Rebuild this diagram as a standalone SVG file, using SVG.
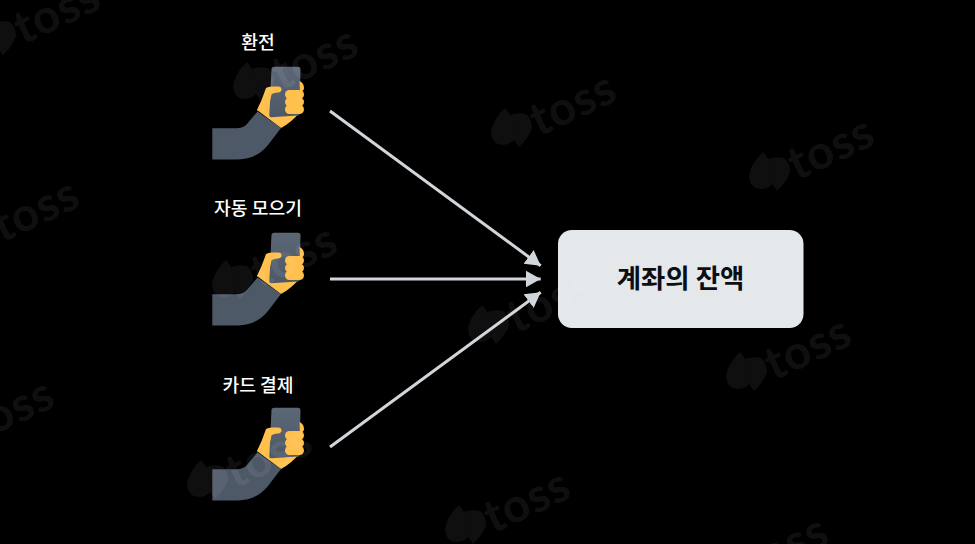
<svg xmlns="http://www.w3.org/2000/svg" width="975" height="544" viewBox="0 0 975 544">
<style>
.lbl{font-family:"Noto Sans CJK KR","Noto Sans",sans-serif;font-size:18.200px;font-weight:500;fill:#fff;text-anchor:middle}
.ttl{font-family:"Noto Sans CJK KR","Noto Sans",sans-serif;font-size:26.400px;font-weight:700;fill:#0b0e12;text-anchor:middle}
.conn{stroke:#d1d6db;stroke-width:3;fill:none;marker-end:url(#ah)}
.wt{font-family:Lato,"Open Sans",sans-serif;font-size:47px;font-weight:700;letter-spacing:1px;fill:#fff;fill-opacity:.085}
.wl{fill:#fff;fill-opacity:.06}
</style>
<defs>
<marker id="ah" markerUnits="userSpaceOnUse" markerWidth="16" markerHeight="20" refX="15" refY="10" orient="auto"><path d="M0 1.500L15 10L0 18.500Z" fill="#d1d6db"/></marker>
<linearGradient id="ph" x1="0" y1="0" x2="0" y2="1"><stop offset="0" stop-color="#5c6776"/><stop offset="1" stop-color="#4e5968"/></linearGradient>
<g id="hand">
<path d="M257 110L268 88H280V112H300Q292 122 281 128Z" fill="#ffc04d"/>
<path d="M212.300 128.300H236Q243 128.300 247 124L257.500 111.500L281 128L268 145Q256 159.500 238 159.500H212.300Z" fill="#4e5968"/>
<path d="M271.500 68.500Q272 66.700 274 66.700H298Q300.500 66.700 300.500 69L299.500 114.500Q299.500 115.500 298 115.500L271 117.300Q269.300 117.300 269.300 115.500Z" fill="url(#ph)"/>
<path d="M299.500 81Q304 83 304 88Q304 91 300 92ZM266 88Q268 86.500 272 86.500H278Q281.500 86.500 281.500 89.500Q281.500 92 278 92.500Q273 93 271.500 94.500L269 106L257 110.500Q262 100 266 88Z" fill="#ffc04d"/>
<rect x="285" y="90" width="19" height="9" rx="4.500" fill="#ffc04d"/>
<rect x="285" y="97.500" width="19" height="9" rx="4.500" fill="#ffc04d"/>
<rect x="285" y="105" width="19" height="9" rx="4.500" fill="#ffc04d"/>
</g>
<g id="mark">
<path class="wl" d="M-7-20Q-20-8-21 5Q-20 16-10 17Q-2 17 2 12Q5 0-2-13Q-5-18-7-20Z"/>
<path class="wl" d="M-2-13Q6-16 14-14Q20-9 20 0Q17 10 7 19Q5 16 2 12Q5 0-2-13Z"/>
<text class="wt" transform="translate(27,9) rotate(-25)">toss</text>
</g>
</defs>

<rect id="background" width="975" height="544" fill="#000"/>

<g id="connectors">
<line class="conn" x1="330" y1="111" x2="540.700" y2="265.700"/>
<line class="conn" x1="330" y1="279" x2="540.700" y2="279"/>
<line class="conn" x1="330" y1="447" x2="540.700" y2="292.300"/>
</g>

<g id="node-exchange">
<text class="lbl" x="258" y="48.500">환전</text>
<use href="#hand"/>
</g>
<g id="node-savings">
<text class="lbl" x="258" y="214.500">자동 모으기</text>
<use href="#hand" y="166"/>
</g>
<g id="node-card">
<text class="lbl" x="258" y="391.500">카드 결제</text>
<use href="#hand" y="341"/>
</g>
<g id="node-balance">
<rect x="558" y="230" width="245.500" height="98" rx="14" fill="#e5e8eb"/>
<text class="ttl" x="680.500" y="287.500">계좌의 잔액</text>
</g>

<g id="watermark">
<use href="#mark" x="254" y="82"/>
<use href="#mark" x="512" y="128"/>
<use href="#mark" x="770" y="172"/>
<use href="#mark" x="-4" y="36"/>
<use href="#mark" x="233" y="280"/>
<use href="#mark" x="489" y="325"/>
<use href="#mark" x="747" y="372"/>
<use href="#mark" x="-25" y="234"/>
<use href="#mark" x="208" y="480"/>
<use href="#mark" x="466" y="525"/>
<use href="#mark" x="724" y="571"/>
<use href="#mark" x="-50" y="434"/>
</g>
</svg>
